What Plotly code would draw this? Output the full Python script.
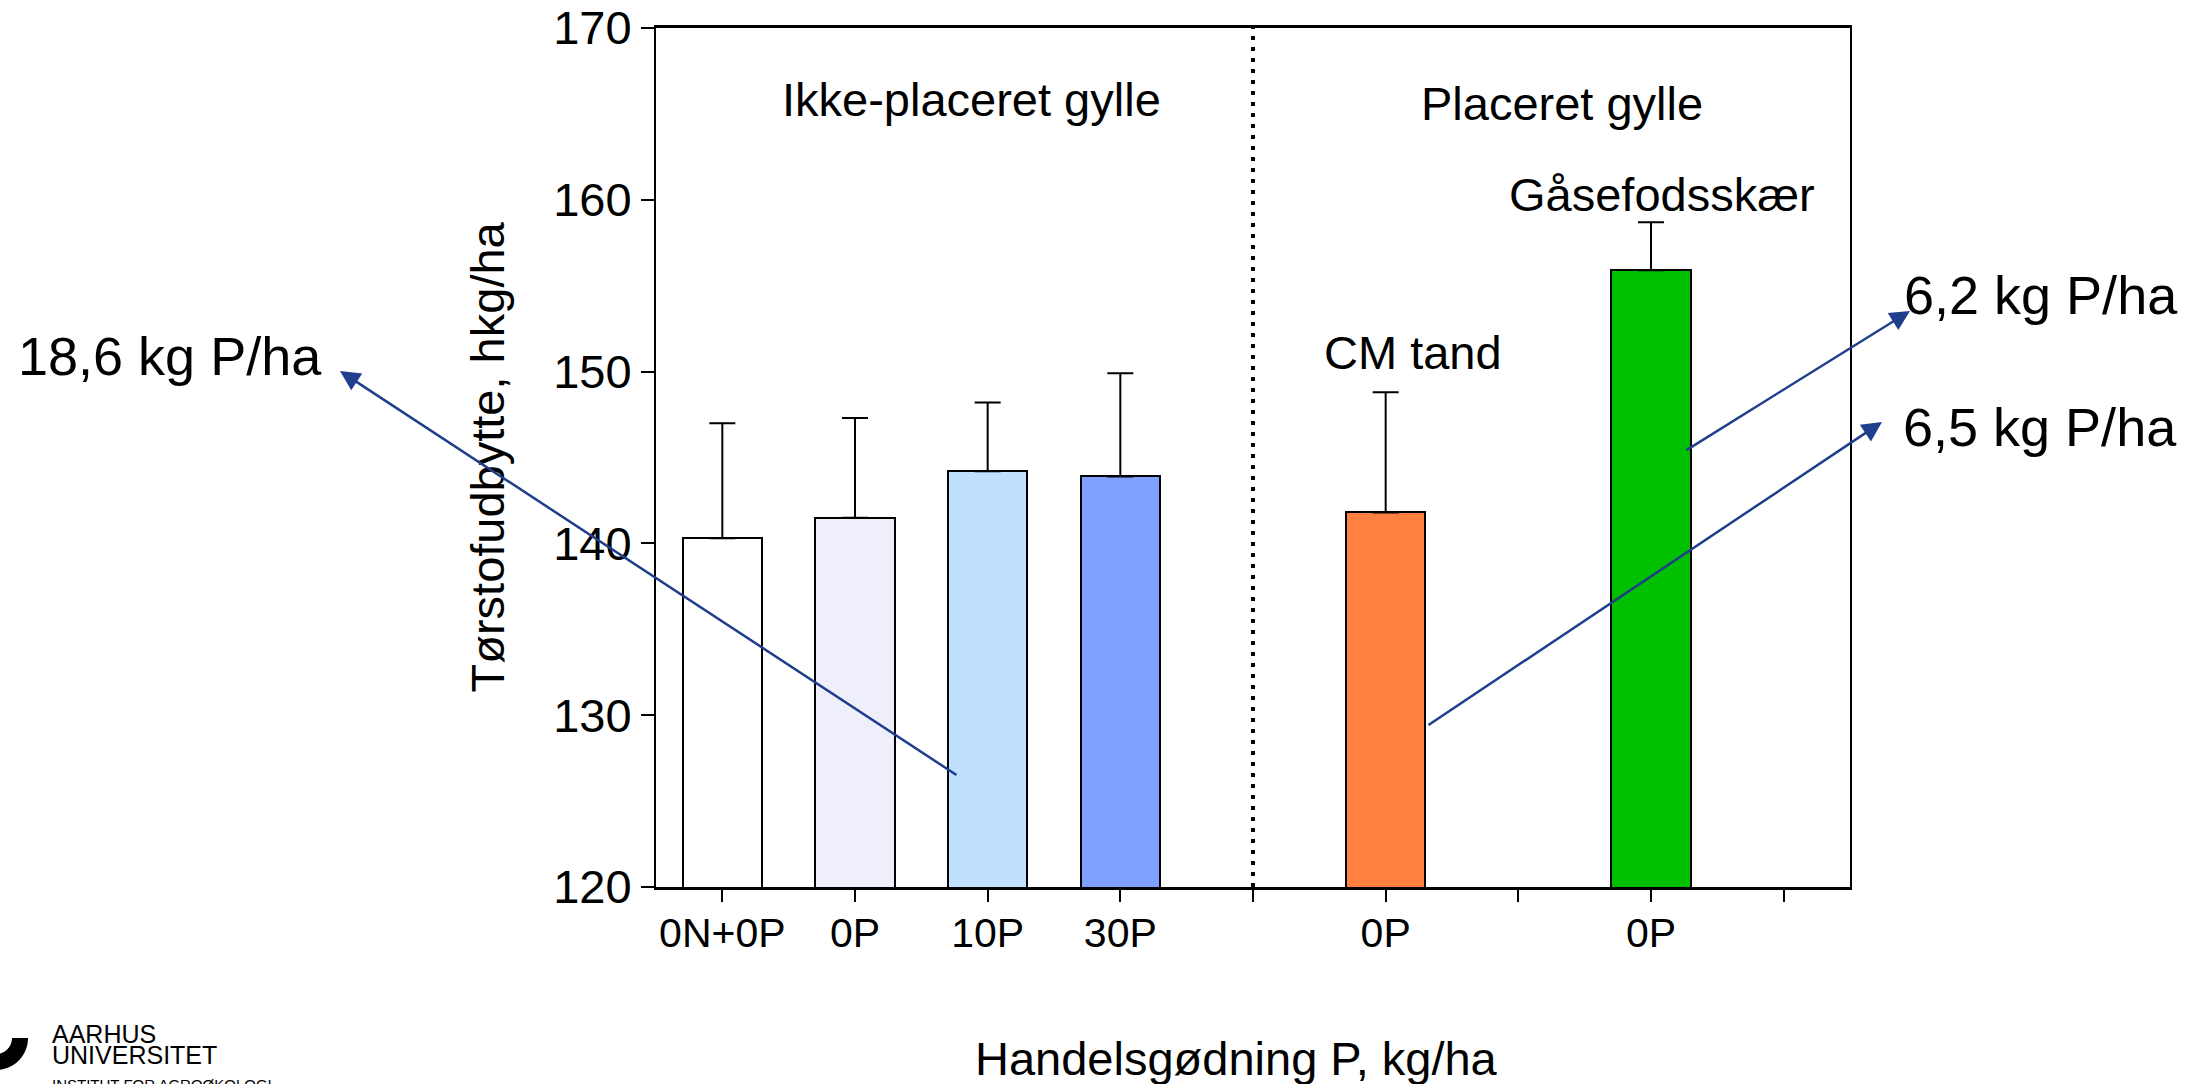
import numpy as np
import plotly.graph_objects as go

# --- data ---------------------------------------------------------------
slot_labels = ["0N+0P", "0P", "10P", "30P", "", "0P", "", "0P", ""]
bar_slots = [0, 1, 2, 3, 5, 7]
yield_hkg = [140.3, 141.5, 144.2, 143.9, 141.8, 155.9]
yield_err = [6.7, 5.8, 4.0, 6.0, 7.0, 2.8]
bar_colors = ["#FFFFFF", "#EFEFFC", "#C0E0FF", "#80A0FF", "#FF8040", "#00C000"]

y_ticks = [120, 130, 140, 150, 160, 170]

# --- page geometry (pixels) ----------------------------------------------
W, H = 2201, 1084
PL, PR, PT, PB = 656, 1850, 28, 887


def fx(xp):
    """pixel x -> paper x"""
    return (xp - PL) / (PR - PL)


def fy(yp):
    """pixel y -> paper y"""
    return (PB - yp) / (PB - PT)


FONT = "Liberation Sans, Arial, sans-serif"
ARROW = "#1F3E8C"

fig = go.Figure()

fig.add_trace(go.Bar(
    x=bar_slots,
    y=yield_hkg,
    width=0.6,
    marker=dict(color=bar_colors, line=dict(color="black", width=2)),
    error_y=dict(type="data", array=yield_err, arrayminus=[0] * len(yield_err),
                 symmetric=False, color="black", thickness=2, width=13),
    showlegend=False,
    hoverinfo="skip",
))

# separator between the two slurry groups
fig.add_shape(type="line", xref="x", yref="paper", x0=4, x1=4, y0=0, y1=1,
              line=dict(color="black", width=4, dash="4px,7px"), layer="above")

annotations = []


def text(t, xp, yp, size, anchor="center", color="black"):
    annotations.append(dict(text=t, xref="paper", yref="paper", x=fx(xp), y=fy(yp),
                            xanchor=anchor, yanchor="middle", showarrow=False,
                            font=dict(family=FONT, size=size, color=color)))


# group / implement labels
text("Ikke-placeret gylle", 971, 99, 47)
text("Placeret gylle", 1562, 104, 47)
text("Gåsefodsskær", 1662, 195, 47)
text("CM tand", 1413, 352, 47)

# phosphorus amounts
text("18,6 kg P/ha", 16, 356, 54, anchor="left")
text("6,2 kg P/ha", 1902, 295, 54, anchor="left")
text("6,5 kg P/ha", 1901, 427, 54, anchor="left")

# axis titles
annotations.append(dict(text="Tørstofudbytte, hkg/ha", xref="paper", yref="paper",
                        x=fx(487), y=0.5, textangle=-90, showarrow=False,
                        xanchor="center", yanchor="middle",
                        font=dict(family=FONT, size=47, color="black")))
text("Handelsgødning P, kg/ha", 1236, 1058, 47)

# arrows (head, tail) in pixels
for (hx, hy), (tx, ty) in [((340, 371), (958, 776)),
                           ((1910, 311), (1685, 451)),
                           ((1882, 422), (1427, 726))]:
    annotations.append(dict(text="", xref="paper", yref="paper", x=fx(hx), y=fy(hy),
                            axref="pixel", ayref="pixel", ax=tx - hx, ay=ty - hy,
                            showarrow=True, arrowhead=2, arrowsize=1.6,
                            arrowwidth=2.5, arrowcolor=ARROW, standoff=0))

# university logo
text("AARHUS", 50, 1034, 25, anchor="left")
text("UNIVERSITET", 50, 1055, 25, anchor="left")
text("INSTITUT FOR AGROØKOLOGI", 50, 1084, 15, anchor="left")

theta = np.linspace(0, np.pi / 2, 30)
cx, cy, r_out, r_in = -4, 1038, 32, 16
outer = [(cx + r_out * np.cos(t), cy + r_out * np.sin(t)) for t in theta]
inner = [(cx + r_in * np.cos(t), cy + r_in * np.sin(t)) for t in theta[::-1]]
pts = outer + inner
path = "M " + " L ".join(f"{fx(a):.5f},{fy(b):.5f}" for a, b in pts) + " Z"
fig.add_shape(type="path", xref="paper", yref="paper", path=path,
              fillcolor="black", line=dict(width=0), layer="above")

fig.update_layout(
    width=W, height=H,
    margin=dict(l=PL, r=W - PR, t=PT, b=H - PB, pad=0, autoexpand=False),
    paper_bgcolor="white", plot_bgcolor="white",
    font=dict(family=FONT, color="black"),
    annotations=annotations,
    bargap=0,
)

fig.update_xaxes(
    range=[-0.5, 8.5], tickmode="array", tickvals=list(range(len(slot_labels))),
    ticktext=slot_labels, ticks="outside", ticklen=12, tickwidth=2, tickcolor="black",
    showline=True, linecolor="black", linewidth=2.5, mirror=True, automargin=False,
    ticklabelstandoff=-4,
    showgrid=False, zeroline=False, tickfont=dict(family=FONT, size=41, color="black"),
)
fig.update_yaxes(
    range=[120, 170], tickmode="array", tickvals=y_ticks,
    ticks="outside", ticklen=13, tickwidth=2, tickcolor="black",
    showline=True, linecolor="black", linewidth=2, mirror=True, automargin=False,
    showgrid=False, zeroline=False, tickfont=dict(family=FONT, size=47, color="black"),
)

fig.write_html("out.html")
